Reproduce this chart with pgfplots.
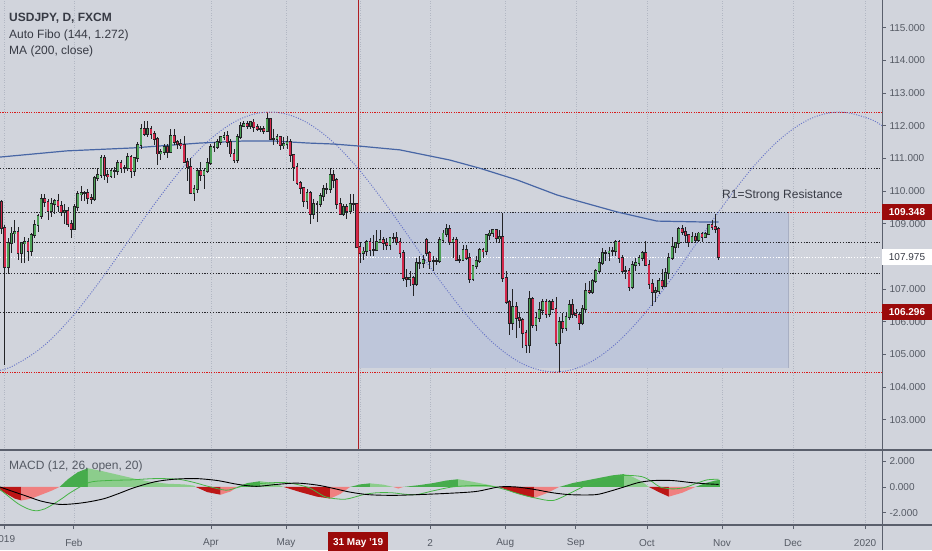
\documentclass[border=0pt]{standalone}
\usepackage{fontspec}
\setmainfont{Liberation Sans}
\usepackage{pgfplots}
\usepackage{pgfplotstable}
\pgfplotsset{compat=1.18}

\definecolor{bg}{RGB}{209,212,220}
\definecolor{fibbox}{RGB}{190,198,218}
\definecolor{fibedge}{RGB}{168,175,195}
\definecolor{axcol}{RGB}{90,95,108}
\definecolor{lblcol}{RGB}{85,90,100}
\definecolor{txtcol}{RGB}{55,58,68}
\definecolor{gridcol}{RGB}{178,183,195}
\definecolor{reddot}{RGB}{215,25,25}
\definecolor{blackdot}{RGB}{40,40,45}
\definecolor{vred}{RGB}{175,30,35}
\definecolor{boxred}{RGB}{155,10,10}
\definecolor{wick}{RGB}{35,35,38}
\definecolor{cgreen}{RGB}{76,160,86}
\definecolor{cred}{RGB}{210,40,75}
\definecolor{macol}{RGB}{72,102,165}
\definecolor{cyccol}{RGB}{105,118,200}
\definecolor{hgreen}{RGB}{70,172,76}
\definecolor{hlgreen}{RGB}{140,205,140}
\definecolor{hred}{RGB}{188,22,22}
\definecolor{hlred}{RGB}{240,128,128}
\definecolor{macdline}{RGB}{70,180,70}

\newcommand\fs[1]{\fontsize{#1}{#1}\selectfont}

% daily candles, i = trading day (0 = 2 Jan 2019)
\pgfplotstableread{
i o h l c
0 109.68 109.72 108.70 108.88
1 108.88 108.95 104.67 107.67
2 107.67 108.55 107.50 108.40
3 108.40 108.90 108.10 108.70
4 108.70 109.10 108.40 108.75
5 108.75 108.90 107.90 108.10
6 108.10 108.45 107.80 108.40
7 108.40 108.60 107.80 108.45
8 108.45 108.55 107.85 108.15
9 108.15 108.70 108.00 108.65
10 108.65 109.10 108.55 108.95
11 108.95 109.30 108.75 109.25
12 109.25 109.90 109.15 109.75
13 109.75 109.90 109.50 109.65
14 109.65 109.75 109.10 109.40
15 109.40 109.80 109.20 109.60
16 109.60 109.75 109.30 109.70
17 109.70 109.90 109.35 109.55
18 109.55 109.70 109.25 109.35
19 109.35 109.60 109.00 109.40
20 109.40 109.50 108.90 109.00
21 109.00 109.10 108.55 108.85
22 108.85 109.60 108.80 109.50
23 109.50 110.00 109.40 109.90
24 109.90 110.15 109.70 109.95
25 109.95 110.00 109.70 109.95
26 109.95 110.05 109.60 109.80
27 109.80 109.90 109.60 109.75
28 109.75 110.45 109.70 110.40
29 110.40 110.70 110.30 110.50
30 110.50 111.10 110.40 111.00
31 111.00 111.10 110.35 110.50
32 110.50 110.65 110.25 110.45
33 110.45 110.70 110.40 110.60
34 110.60 110.75 110.40 110.60
35 110.60 110.95 110.50 110.85
36 110.85 110.95 110.55 110.70
37 110.70 110.80 110.55 110.70
38 110.70 111.15 110.60 111.05
39 111.05 111.10 110.40 110.60
40 110.60 111.05 110.45 111.00
41 111.00 111.50 110.90 111.40
42 111.40 112.05 111.30 111.90
43 111.90 112.15 111.70 111.75
44 111.75 112.15 111.65 111.90
45 111.90 112.00 111.60 111.75
46 111.75 111.85 111.40 111.60
47 111.60 111.65 110.80 111.15
48 111.15 111.30 110.95 111.20
49 111.20 111.45 111.10 111.35
50 111.35 111.45 111.00 111.20
51 111.20 111.90 111.15 111.70
52 111.70 111.90 111.40 111.50
53 111.50 111.55 111.30 111.45
54 111.45 111.60 111.30 111.40
55 111.40 111.70 110.85 110.90
56 110.90 111.00 110.30 110.75
57 110.75 111.00 109.90 109.95
58 109.95 110.20 109.70 110.05
59 110.05 110.70 109.95 110.60
60 110.60 110.90 110.30 110.50
61 110.50 110.70 110.05 110.60
62 110.60 111.00 110.55 110.85
63 110.85 111.45 110.80 111.35
64 111.35 111.50 111.20 111.35
65 111.35 111.60 111.30 111.50
66 111.50 111.70 111.40 111.65
67 111.65 111.80 111.55 111.70
68 111.70 111.85 111.35 111.50
69 111.50 111.60 111.05 111.15
70 111.15 111.30 110.85 110.95
71 110.95 111.75 110.85 111.65
72 111.65 112.10 111.60 112.00
73 112.00 112.15 111.95 112.05
74 112.05 112.15 111.90 112.00
75 112.00 112.15 111.90 112.10
76 112.10 112.20 111.80 111.95
77 111.95 112.05 111.85 111.90
78 111.90 112.00 111.80 111.90
79 111.90 112.00 111.75 111.85
80 111.85 112.40 111.80 112.20
81 112.20 112.25 111.55 111.60
82 111.60 111.90 111.40 111.60
83 111.60 111.75 111.45 111.65
84 111.65 111.70 111.25 111.40
85 111.40 111.65 111.30 111.45
86 111.45 111.70 111.30 111.50
87 111.50 111.60 110.90 111.10
88 111.10 111.10 110.30 110.75
89 110.75 110.85 110.20 110.25
90 110.25 110.30 109.90 110.10
91 110.10 110.10 109.50 109.70
92 109.70 110.05 109.45 109.95
93 109.95 110.00 109.00 109.30
94 109.30 109.75 109.15 109.60
95 109.60 109.70 109.05 109.60
96 109.60 109.95 109.50 109.85
97 109.85 110.20 109.70 110.05
98 110.05 110.25 109.90 110.05
99 110.05 110.70 109.95 110.50
100 110.50 110.65 110.10 110.35
101 110.35 110.40 109.45 109.60
102 109.60 109.80 109.30 109.30
103 109.30 109.60 109.25 109.50
104 109.50 109.60 109.15 109.40
105 109.40 109.90 109.30 109.60
106 109.60 109.90 109.40 109.60
107 109.60 109.65 108.30 108.30
108 108.30 108.45 107.80 108.10
109 108.10 108.30 107.90 108.15
110 108.15 108.50 108.00 108.45
111 108.45 108.55 108.00 108.20
112 108.20 108.65 108.00 108.20
113 108.20 108.80 108.15 108.45
114 108.45 108.80 108.40 108.50
115 108.50 108.60 108.20 108.40
116 108.40 108.55 108.20 108.35
117 108.35 108.55 108.20 108.55
118 108.55 108.70 108.40 108.55
119 108.55 108.75 108.35 108.45
120 108.45 108.55 107.95 108.10
121 108.10 108.20 107.25 107.35
122 107.35 107.60 107.05 107.30
123 107.30 107.55 107.10 107.35
124 107.35 107.40 106.80 107.15
125 107.15 107.95 107.10 107.80
126 107.80 108.00 107.60 107.80
127 107.80 108.05 107.65 107.90
128 108.50 108.55 108.00 108.10
129 108.10 108.15 107.60 107.85
130 107.85 108.00 107.55 107.85
131 107.85 107.95 107.75 107.85
132 107.85 108.60 107.80 108.50
133 108.50 108.80 108.45 108.70
134 108.70 109.00 108.60 108.85
135 108.85 108.95 108.35 108.45
136 108.45 108.60 107.95 108.50
137 108.50 108.60 107.90 107.90
138 107.90 108.05 107.80 107.90
139 107.90 108.35 107.85 108.20
140 108.20 108.35 107.90 107.95
141 107.95 108.10 107.20 107.30
142 107.30 107.75 107.25 107.70
143 107.70 108.00 107.60 107.85
144 107.85 108.25 107.80 108.20
145 108.20 108.25 107.95 108.15
146 108.15 108.70 108.05 108.65
147 108.65 108.80 108.50 108.70
148 108.70 108.80 108.60 108.80
149 108.80 108.85 108.40 108.55
150 108.55 108.80 108.40 108.60
151 108.60 109.32 107.20 107.35
152 107.35 107.55 106.55 106.60
153 106.60 106.65 105.60 105.95
154 105.95 107.00 105.75 106.45
155 106.45 106.60 105.50 106.10
156 106.10 106.30 105.80 106.05
157 106.05 106.10 105.20 105.65
158 105.65 105.75 105.05 105.30
159 105.30 106.95 105.05 106.70
160 106.70 106.75 105.80 105.90
161 105.90 106.30 105.70 106.10
162 106.10 106.60 106.00 106.35
163 106.35 106.70 106.20 106.60
164 106.60 106.70 106.10 106.25
165 106.25 106.65 106.15 106.60
166 106.60 106.70 106.35 106.40
167 106.40 106.75 105.25 105.35
168 105.35 106.15 104.45 106.00
169 106.00 106.25 105.65 105.80
170 105.80 106.30 105.70 106.15
171 106.15 106.65 106.05 106.50
172 106.50 106.70 106.10 106.25
173 106.25 106.40 106.10 106.20
174 106.20 106.30 105.75 105.95
175 105.95 106.50 105.90 106.40
176 106.40 107.20 106.30 106.95
177 106.95 107.25 106.85 106.90
178 106.90 107.30 106.85 107.25
179 107.25 107.60 107.20 107.55
180 107.55 107.95 107.50 107.80
181 107.80 108.25 107.75 108.10
182 108.10 108.20 107.85 108.10
183 108.10 108.30 107.85 108.15
184 108.15 108.30 108.00 108.15
185 108.15 108.50 108.00 108.45
186 108.45 108.50 107.80 107.95
187 107.95 108.05 107.50 107.55
188 107.55 107.70 107.30 107.55
189 107.55 107.65 106.95 107.05
190 107.05 107.85 107.00 107.75
191 107.75 107.95 107.55 107.80
192 107.80 108.05 107.70 107.95
193 107.95 108.15 107.85 108.10
194 108.10 108.47 107.70 107.75
195 107.75 107.90 107.00 107.15
196 107.15 107.30 106.48 106.90
197 106.90 107.05 106.60 106.95
198 106.95 107.35 106.85 107.25
199 107.25 107.60 107.00 107.10
200 107.10 107.65 107.05 107.50
201 107.50 108.10 107.30 107.95
202 107.95 108.60 107.90 108.30
203 108.30 108.45 108.10 108.40
204 108.40 108.90 108.25 108.85
205 108.85 108.95 108.65 108.75
206 108.75 108.90 108.40 108.65
207 108.65 108.70 108.30 108.45
208 108.45 108.75 108.40 108.60
209 108.60 108.70 108.40 108.50
210 108.50 108.75 108.45 108.70
211 108.70 108.75 108.45 108.60
212 108.60 108.75 108.55 108.70
213 108.70 109.00 108.65 108.95
214 108.95 109.10 108.80 108.90
215 108.90 109.30 108.70 108.85
216 108.85 108.90 107.90 107.98
}\candles

\begin{document}
\begin{tikzpicture}
\clip (0pt,0pt) rectangle (932pt,550pt);
\fill[bg] (0pt,0pt) rectangle (932pt,550pt);

% ---------- price panel ----------
\begin{axis}[
  at={(0pt,100pt)}, anchor=south west, scale only axis,
  width=882pt, height=450pt,
  xmin=-0.45, xmax=265.2, ymin=102.07, ymax=115.85,
  axis line style={draw=none},
  ytick={103,104,...,115}, ytick pos=right, yticklabel pos=right,
  tick align=outside, major tick length=4pt,
  ytick style={draw=axcol, line width=0.8pt},
  yticklabel style={font=\fs{10}, text=lblcol,
    /pgf/number format/fixed, /pgf/number format/fixed zerofill,
    /pgf/number format/precision=3, /pgf/number format/assume math mode=true},
  xtick={0.75,21.8,63.1,85.7,108,129.1,151.7,173,194.4,217,238.4,260.1},
  xticklabels={}, xtick style={draw=none},
  xmajorgrids, x grid style={gridcol, dotted, line width=0.6pt},
]
% auto fibo box
\fill[fibbox] (axis cs:107.4,109.348) rectangle (axis cs:236.9,104.58);
\draw[fibedge, line width=0.8pt] (axis cs:236.9,109.348) -- (axis cs:236.9,104.58);
% fibo levels
\draw[reddot, line width=0.9pt, dash pattern=on 1.2pt off 1.2pt] (axis cs:-0.45,112.42) -- (axis cs:265.2,112.42);
\draw[blackdot, line width=0.8pt, dash pattern=on 1.2pt off 1.6pt] (axis cs:-0.45,110.70) -- (axis cs:265.2,110.70);
\draw[blackdot, line width=0.8pt, dash pattern=on 1.2pt off 1.6pt] (axis cs:-0.45,109.348) -- (axis cs:236.9,109.348);
\draw[reddot, line width=0.9pt, dash pattern=on 1.2pt off 1.2pt] (axis cs:236.9,109.348) -- (axis cs:265.2,109.348);
\draw[blackdot, line width=0.8pt, dash pattern=on 1.2pt off 1.6pt] (axis cs:-0.45,108.42) -- (axis cs:265.2,108.42);
\draw[blackdot, line width=0.8pt, dash pattern=on 1.2pt off 1.6pt] (axis cs:-0.45,107.48) -- (axis cs:265.2,107.48);
\draw[blackdot, line width=0.8pt, dash pattern=on 1.2pt off 1.6pt] (axis cs:-0.45,106.296) -- (axis cs:176.7,106.296);
\draw[reddot, line width=0.9pt, dash pattern=on 1.2pt off 1.2pt] (axis cs:176.7,106.296) -- (axis cs:265.2,106.296);
\draw[reddot, line width=0.9pt, dash pattern=on 1.2pt off 1.2pt] (axis cs:-0.45,104.46) -- (axis cs:265.2,104.46);
\draw[white, line width=0.9pt, dash pattern=on 1.2pt off 1.6pt] (axis cs:-0.45,107.975) -- (axis cs:265.2,107.975);
% vertical marker line
\draw[vred, line width=1pt] (axis cs:107.4,102.07) -- (axis cs:107.4,115.85);

% time cycle curve
\addplot[cyccol, line width=0.95pt, dash pattern=on 1pt off 1.5pt, smooth, tension=0.6]
coordinates {(-0.45,104.51) (3.68,104.655) (12.26,105.22) (20.84,106.10) (29.42,107.21)
 (38.0,108.44) (46.58,109.67) (55.16,110.78) (63.74,111.66) (72.32,112.225) (80.9,112.42)
 (89.48,112.225) (98.06,111.66) (106.64,110.78) (115.22,109.67) (123.8,108.44)
 (132.38,107.21) (140.96,106.10) (149.54,105.22) (158.12,104.655) (166.7,104.46)
 (175.28,104.655) (183.86,105.22) (192.44,106.10) (201.02,107.21) (209.6,108.44)
 (218.18,109.67) (226.76,110.78) (235.34,111.66) (243.92,112.225) (252.5,112.42)
 (261.08,112.225) (265.2,112.0)};

% MA 200
\addplot[macol, line width=1.2pt]
coordinates {(-0.45,111.04) (19.7,111.23) (39.6,111.32) (59.8,111.47) (72.4,111.53)
 (82.4,111.53) (92.3,111.47) (99.9,111.44) (107.4,111.38) (120,111.26) (135,110.95)
 (144,110.70) (155.3,110.34) (167.3,109.88) (172.7,109.72) (185.4,109.36)
 (197.4,109.08) (212.5,109.05) (216,109.05)};

% wicks
\addplot[draw=none, mark=none, forget plot,
  error bars/.cd, y dir=both, y explicit, error mark=none,
  error bar style={draw=wick, solid, line width=0.75pt}]
  table[x=i, y expr={(\thisrow{h}+\thisrow{l})/2}, y error expr={(\thisrow{h}-\thisrow{l})/2}] {\candles};
% body outlines
\addplot[draw=none, mark=none, forget plot,
  error bars/.cd, y dir=both, y explicit, error mark=none,
  error bar style={draw=wick, solid, line width=2.8pt}]
  table[x=i, y expr={(\thisrow{o}+\thisrow{c})/2}, y error expr={abs(\thisrow{c}-\thisrow{o})/2+0.03}] {\candles};
% up bodies
\addplot[draw=none, mark=none, forget plot,
  restrict expr to domain={\thisrow{c}-\thisrow{o}}{0:100},
  error bars/.cd, y dir=both, y explicit, error mark=none,
  error bar style={draw=cgreen, solid, line width=1.8pt}]
  table[x=i, y expr={(\thisrow{o}+\thisrow{c})/2}, y error expr={abs(\thisrow{c}-\thisrow{o})/2}] {\candles};
% down bodies
\addplot[draw=none, mark=none, forget plot,
  restrict expr to domain={\thisrow{o}-\thisrow{c}}{0.0001:100},
  error bars/.cd, y dir=both, y explicit, error mark=none,
  error bar style={draw=cred, solid, line width=1.8pt}]
  table[x=i, y expr={(\thisrow{o}+\thisrow{c})/2}, y error expr={abs(\thisrow{c}-\thisrow{o})/2}] {\candles};

\node[anchor=west, inner sep=0, font=\fs{12}, text=txtcol] at (axis cs:217,109.88) {R1=Strong Resistance};
\end{axis}

% ---------- MACD panel ----------
\begin{axis}[
  at={(0pt,25pt)}, anchor=south west, scale only axis,
  width=882pt, height=74pt,
  xmin=-0.45, xmax=265.2, ymin=-2.95, ymax=2.79,
  axis line style={draw=none},
  ytick={-2,0,2}, ytick pos=right, yticklabel pos=right,
  tick align=outside, major tick length=4pt,
  tick style={draw=axcol, line width=0.8pt},
  yticklabel style={font=\fs{10}, text=lblcol,
    /pgf/number format/fixed, /pgf/number format/fixed zerofill,
    /pgf/number format/precision=3, /pgf/number format/assume math mode=true},
  xtick={0.75,21.8,63.1,85.7,129.1,151.7,173,194.4,217,238.4,260.1},
  xticklabels={,Feb,Apr,May,2,Aug,Sep,Oct,Nov,Dec,2020},
  xtick pos=left,
  xticklabel style={font=\fs{10}, text=lblcol, anchor=center, yshift=-14pt},
  extra x ticks={107.4}, extra x tick labels={31 May '19},
  extra x tick style={xticklabel style={fill=boxred, text=white, font=\bfseries\fs{10},
    minimum width=60pt, minimum height=22pt, inner sep=0pt}},
  xmajorgrids, x grid style={gridcol, dotted, line width=0.6pt},
]
% histogram
\addplot[draw=none, fill=hred] coordinates {(-0.45,0) (-0.45,-0.25) (2,-0.6) (4,-0.9) (6,-1.05) (6,0)};
\addplot[draw=none, fill=hlred] coordinates {(6,0) (6,-1.05) (9,-0.9) (12,-0.6) (15,-0.3) (17.5,0)};
\addplot[draw=none, fill=hgreen] coordinates {(17.5,0) (20,0.6) (23,1.15) (26,1.45) (26,0)};
\addplot[draw=none, fill=hlgreen] coordinates {(26,0) (26,1.45) (30,1.25) (35,0.95) (40,0.65) (45,0.4) (50,0.25) (55,0.2) (58,0.1) (58.5,0)};
\addplot[draw=none, fill=hred] coordinates {(58.5,0) (62,-0.4) (66,-0.6) (66,0)};
\addplot[draw=none, fill=hlred] coordinates {(66,0) (66,-0.6) (69,-0.35) (71,0)};
\addplot[draw=none, fill=hgreen] coordinates {(71,0) (74,0.3) (78,0.45) (78,0)};
\addplot[draw=none, fill=hlgreen] coordinates {(78,0) (78,0.45) (82,0.3) (85,0)};
\addplot[draw=none, fill=hred] coordinates {(85,0) (90,-0.4) (95,-0.75) (99,-0.9) (99,0)};
\addplot[draw=none, fill=hlred] coordinates {(99,0) (99,-0.9) (102,-0.55) (105,0)};
\addplot[draw=none, fill=hgreen] coordinates {(105,0) (108,0.2) (111,0.28) (111,0)};
\addplot[draw=none, fill=hlgreen] coordinates {(111,0) (111,0.28) (115,0.18) (118,0)};
\addplot[draw=none, fill=hlred] coordinates {(118,0) (119.5,-0.12) (121,0)};
\addplot[draw=none, fill=hgreen] coordinates {(121,0) (126,0.15) (130,0.3) (134,0.5) (137.5,0.6) (137.5,0)};
\addplot[draw=none, fill=hlgreen] coordinates {(137.5,0) (137.5,0.6) (142,0.4) (147,0.15) (150,0)};
\addplot[draw=none, fill=hred] coordinates {(150,0) (154,-0.4) (158,-0.7) (160.5,-0.85) (160.5,0)};
\addplot[draw=none, fill=hlred] coordinates {(160.5,0) (160.5,-0.85) (164,-0.5) (168,0)};
\addplot[draw=none, fill=hgreen] coordinates {(168,0) (172,0.3) (178,0.6) (184,0.9) (187.5,1.0) (187.5,0)};
\addplot[draw=none, fill=hlgreen] coordinates {(187.5,0) (187.5,1.0) (190,0.8) (193,0.4) (195,0)};
\addplot[draw=none, fill=hred] coordinates {(195,0) (198,-0.4) (201,-0.75) (201,0)};
\addplot[draw=none, fill=hlred] coordinates {(201,0) (201,-0.75) (205,-0.45) (209,0)};
\addplot[draw=none, fill=hgreen] coordinates {(209,0) (212,0.3) (215,0.5) (216.4,0.55) (216.4,0)};
% MACD line
\addplot[macdline, line width=0.8pt, smooth]
coordinates {(-0.45,-0.2) (2,-0.7) (5,-1.3) (8,-1.7) (10.4,-1.85) (13,-1.7) (15.8,-1.3)
 (18.5,-0.85) (21,-0.4) (26.4,0.35) (32,0.5) (39,0.55) (46.2,0.65) (53.2,0.6) (58,0.35)
 (62.2,0.05) (67.6,-0.25) (71,-0.05) (74.9,0.2) (83.6,0.35) (88,0.25) (92.6,-0.05)
 (95,-0.4) (98,-0.8) (103.5,-0.95) (108.9,-0.6) (113,-0.45) (117.6,-0.45) (121,-0.55)
 (124.8,-0.6) (130,-0.3) (135.7,0.0) (141,0.1) (146.5,0.1) (151.7,-0.2) (156,-0.55)
 (160.7,-0.85) (166.1,-1.05) (171.5,-0.45) (175,0.0) (178.8,0.4) (183,0.7) (187.5,0.9)
 (192.9,0.8) (196,0.4) (198.3,0.0) (202,-0.15) (205.6,-0.05) (209,0.25) (212.5,0.55) (216,0.6)};
% signal line
\addplot[black, line width=0.9pt, smooth]
coordinates {(-0.45,0.0) (4,-0.4) (8,-0.75) (12,-1.1) (17.3,-1.35) (22,-1.3) (26.4,-1.15)
 (31,-0.9) (35.4,-0.5) (40,-0.05) (46.2,0.4) (52,0.6) (58.6,0.65) (65,0.5) (71.2,0.2)
 (76.7,0.05) (83,0.2) (89,0.3) (95,0.15) (99.8,-0.1) (105,-0.4) (110.7,-0.6) (118,-0.65)
 (124.8,-0.6) (134,-0.5) (142.9,-0.35) (149.8,0.0) (155,0.0) (160.7,-0.2) (166,-0.45)
 (171.5,-0.6) (178.8,-0.6) (183,-0.35) (187.5,0.0) (192,0.35) (196.5,0.5) (202,0.5)
 (207.4,0.35) (212,0.25) (216,0.2)};
\end{axis}

% panel separators and scale line
\draw[axcol, line width=1.2pt] (0pt,100pt) -- (932pt,100pt);
\draw[axcol, line width=1.2pt] (0pt,25pt) -- (932pt,25pt);
\draw[axcol, line width=1pt] (882pt,0pt) -- (882pt,550pt);

% price labels on the scale
\node[fill=boxred, text=white, font=\bfseries\fs{10}, minimum width=50pt, minimum height=16pt, inner sep=0pt] at (907pt,338pt) {109.348};
\node[fill=boxred, text=white, font=\bfseries\fs{10}, minimum width=50pt, minimum height=16pt, inner sep=0pt] at (907pt,238pt) {106.296};
\node[fill=white, text=txtcol, font=\fs{10}, minimum width=50pt, minimum height=16pt, inner sep=0pt] at (907pt,293pt) {107.975};

% first date label, cut at the left edge as in the source
\node[overlay, font=\fs{10}, text=lblcol] at (4pt,11pt) {2019};

% legends
\node[anchor=west, inner sep=0, font=\bfseries\fs{12}, text=txtcol] at (9pt,532pt) {USDJPY, D, FXCM};
\node[anchor=west, inner sep=0, font=\fs{12}, text=txtcol] at (9pt,515pt) {Auto Fibo (144, 1.272)};
\node[anchor=west, inner sep=0, font=\fs{12}, text=txtcol] at (9pt,499pt) {MA (200, close)};
\node[anchor=west, inner sep=0, font=\fs{12}, text=lblcol] at (9pt,84pt) {MACD (12, 26, open, 20)};
\end{tikzpicture}
\end{document}
